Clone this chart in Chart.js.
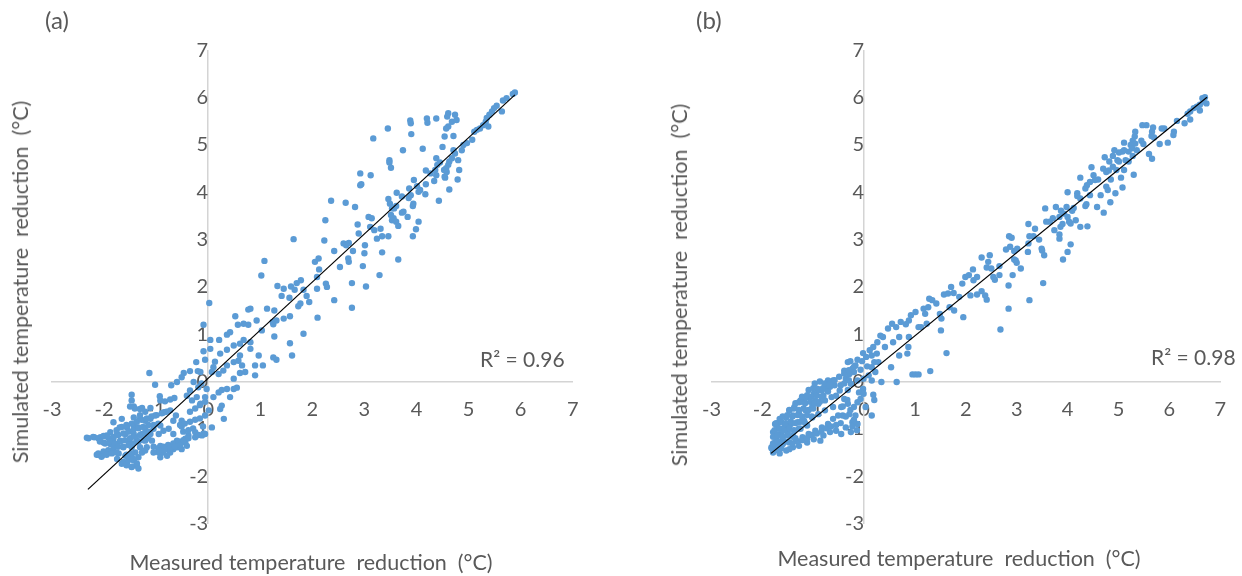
<!DOCTYPE html>
<html>
<head>
<meta charset="utf-8">
<script src="https://cdn.jsdelivr.net/npm/chart.js@4.4.1/dist/chart.umd.min.js"></script>
<style>
  html, body { margin:0; padding:0; background:#fff; }
  #wrap { position:relative; width:1242px; height:576px; overflow:hidden; font-family:Lato, sans-serif; color:#595959; }
  canvas { position:absolute; top:0; }
  .t { position:absolute; font-size:21.5px; line-height:26px; white-space:pre; transform:translate(-50%,-50%); }
  .l { position:absolute; font-size:21px; line-height:26px; white-space:pre; transform:translateY(-50%); }
  .tag { font-size:24px; }
  .rot { transform:translate(-50%,-50%) rotate(-90deg); }
</style>
</head>
<body>
<div id="wrap">
  <canvas id="chartA" width="621" height="576" style="left:0"></canvas>
  <canvas id="chartB" width="621" height="576" style="left:621px"></canvas>

  <div class="l tag" style="left:45px; top:20px">(a)</div>
  <div class="l tag" style="left:696px; top:20px">(b)</div>
  <div class="t rot" style="left:20px; top:282px">Simulated temperature  reduction  (°C)</div>
  <div class="t rot" style="left:679px; top:285px">Simulated temperature  reduction  (°C)</div>
  <div class="t" style="left:311px; top:562px">Measured temperature  reduction  (°C)</div>
  <div class="t" style="left:959px; top:558px">Measured temperature  reduction  (°C)</div>
  <div class="l" style="left:480px; top:359px">R² = 0.96</div>
  <div class="l" style="left:1151px; top:357px">R² = 0.98</div>
</div>
<script>
// ── DATA ──
const AXIS_MIN = -3;
const AXIS_MAX = 7;

// (a) measured vs simulated
const pointsA = [
  [5.89,6.11],[5.85,6.08],[5.73,5.99],[5.66,5.94],[5.64,5.71],[5.54,5.83],[5.49,5.78],[5.45,5.71],[5.40,5.64],[5.35,5.57],
  [5.33,5.49],[5.38,5.39],[5.28,5.42],[5.22,5.35],[5.16,5.32],[5.11,5.28],[5.07,5.11],[4.97,5.04],[4.90,5.00],[4.87,4.89],
  [4.80,4.68],[4.82,4.47],[4.79,4.27],[4.74,4.82],[4.71,4.89],[4.68,4.72],[4.63,4.65],[4.61,4.58],[4.58,4.43],[4.55,4.31],
  [4.63,4.06],[4.53,4.47],[4.50,4.96],[4.54,5.18],[4.71,5.19],[4.61,5.39],[4.57,5.35],[4.68,5.49],[4.74,5.64],[4.77,5.53],
  [4.61,5.67],[4.59,5.60],[4.38,5.56],[4.20,5.56],[4.21,5.47],[3.88,5.52],[3.89,5.46],[3.90,5.23],[3.45,5.35],[3.17,5.14],
  [3.74,4.89],[4.12,4.92],[3.48,4.68],[3.48,4.63],[3.51,4.52],[2.92,4.40],[3.12,4.36],[2.94,4.17],[2.92,4.15],[2.36,3.82],
  [2.64,3.78],[2.82,3.69],[2.25,3.41],[2.23,2.98],[2.42,2.76],[2.60,2.92],[2.65,2.88],[2.70,2.93],[2.78,2.76],[2.69,2.60],
  [2.70,2.53],[2.53,2.42],[2.97,2.44],[3.29,2.25],[3.01,2.88],[3.00,2.71],[3.34,2.73],[3.65,2.58],[2.87,3.32],[2.89,3.13],
  [3.08,3.48],[3.14,3.45],[3.11,3.27],[3.19,3.20],[3.31,3.23],[3.24,3.02],[3.34,3.07],[3.46,3.07],[3.53,3.41],[3.56,3.45],
  [3.61,3.38],[3.65,3.29],[3.72,3.57],[3.75,3.59],[3.83,3.48],[4.04,3.38],[3.99,3.22],[3.93,3.07],[3.62,3.99],[3.46,3.86],
  [3.49,3.76],[3.53,3.66],[3.51,3.52],[3.57,3.66],[3.61,3.71],[3.72,3.91],[3.85,3.88],[3.89,3.94],[3.86,4.08],[3.95,4.26],
  [4.01,4.13],[4.04,4.01],[4.07,4.05],[4.17,3.96],[4.18,4.17],[4.18,4.46],[4.27,4.40],[4.36,4.47],[4.38,4.36],[4.34,4.24],
  [4.43,3.82],[4.38,4.72],[4.40,4.58],[4.45,4.63],[4.54,4.33],[4.57,4.51],[3.93,3.71],[3.94,3.76],
  [0.02,1.66],[-0.09,1.20],[1.08,2.55],[1.02,2.24],[1.64,3.01],[1.33,2.02],[1.45,1.96],[1.59,2.01],[1.66,1.94],[1.70,2.08],
  [1.78,2.14],[1.41,1.81],[1.56,1.77],[1.83,1.94],[1.89,1.81],[1.94,1.68],[1.73,1.59],[1.77,1.65],[2.09,1.96],[2.05,2.53],
  [2.12,2.60],[2.09,2.21],[2.13,2.37],[0.52,1.38],[0.77,1.52],[0.81,1.54],[1.13,1.54],[1.27,1.50],[0.57,1.20],[0.68,1.22],
  [0.77,1.20],[0.93,1.29],[1.03,1.08],[1.24,1.26],[1.31,1.29],[1.25,1.21],[1.45,1.33],[1.57,1.38],[0.36,0.99],[0.42,1.04],
  [0.21,0.88],[0.04,0.88],[0.04,0.69],[-0.09,0.64],[-0.06,0.46],[0.13,0.42],[0.23,0.59],[0.36,0.67],[0.49,0.76],[0.61,0.80],
  [0.68,0.88],[0.81,0.83],[0.81,0.69],[0.61,0.55],[0.58,0.44],[0.65,0.34],[0.49,0.41],[0.36,0.34],[0.29,0.23],[0.20,0.16],
  [0.10,0.30],[0.07,0.20],[0.49,0.06],[0.61,0.18],[0.71,0.20],[0.90,0.34],[0.90,0.13],[0.97,0.55],[1.05,0.34],[1.25,0.51],
  [1.31,0.46],[1.27,0.95],[1.57,0.81],[1.61,0.55],[1.83,1.01],[2.10,1.35],[-0.15,0.20],[2.26,2.07],[2.28,2.00],[2.42,1.72],
  [2.76,2.08],[2.76,1.56],[3.03,2.01],
  [-1.13,0.18],[-1.02,-0.07],[-1.47,-0.28],[-1.43,-0.53],[-1.27,-0.56],[-1.11,-0.56],[-0.93,-0.31],[-0.92,-0.40],[-0.83,-0.42],[-0.73,-0.38],
  [-0.65,-0.35],[-0.71,-0.08],[-0.60,-0.01],[-0.47,0.18],[-0.51,0.09],[-0.35,0.22],[-0.23,0.41],[-0.20,0.22],[-0.28,-0.01],[-0.35,-0.19],
  [-0.41,-0.30],[-0.19,-0.12],[-0.22,-0.33],[-0.31,-0.40],[-0.15,-0.47],[-0.06,-0.33],[-0.03,-0.16],[-0.13,-0.04],[0.10,-0.33],[0.20,-0.23],
  [0.36,-0.16],[0.42,-0.33],[0.49,-0.16],[0.26,-0.51],[0.23,-0.58],[0.01,-0.61],[-0.06,-0.72],[0.30,-0.79],[0.07,-0.97],[-0.10,-0.95],
  [-0.12,-1.14],[-0.06,-1.11],[-0.25,-1.07],[-0.25,-1.18],[-0.38,-1.14],[-0.44,-1.29],[-0.41,-1.36],[-0.60,-1.25],[-0.60,-1.39],[-0.73,-1.50],
  [-0.86,-1.50],[-0.95,-1.50],[-0.79,-1.43],[-0.67,-1.43],[-0.51,-1.43],[-0.44,-1.21],[-0.51,-0.95],[-0.51,-0.83],[-0.67,-0.83],[-0.62,-0.72],
  [-0.73,-0.61],[-0.85,-0.65],[-1.02,-0.72],[-1.11,-0.79],[-1.21,-0.83],[-1.31,-0.79],[-1.43,-0.76],[-1.66,-0.79],[-1.82,-0.86],[-1.70,-0.97],
  [-1.56,-0.97],[-1.43,-0.93],[-1.34,-0.97],[-1.21,-1.00],[-1.05,-1.00],[-0.92,-0.93],[-0.86,-1.04],[-0.76,-1.00],[-0.67,-1.11],[-0.95,-1.11],
  [-1.11,-1.11],[-1.27,-1.11],[-1.43,-1.11],[-1.59,-1.11],[-1.75,-1.11],[-1.88,-1.07],[-1.95,-1.14],[-2.07,-1.18],[-2.19,-1.18],[-2.30,-1.20],
  [-1.82,-1.21],[-1.69,-1.25],[-1.53,-1.25],[-1.37,-1.24],[-1.21,-1.25],[-1.08,-1.25],[-2.01,-1.29],[-1.88,-1.32],[-1.75,-1.36],[-1.63,-1.39],
  [-1.47,-1.39],[-1.31,-1.39],[-1.18,-1.39],[-2.11,-1.55],[-2.04,-1.57],[-1.95,-1.53],[-1.85,-1.50],[-1.72,-1.52],[-1.59,-1.57],[-1.50,-1.60],
  [-1.43,-1.67],[-1.56,-1.71],[-1.37,-1.78],[-1.47,-1.81],[-1.34,-1.60],[-1.27,-1.50],[-1.21,-1.46],[-1.40,-1.50],[-0.92,-1.36],[-1.05,-1.50],
  [-0.79,-1.57],[-0.92,-1.60],[-1.66,-1.74],[-1.75,-1.64],[-1.47,-0.40],[-1.31,-0.58],[0.55,-0.13],[0.26,-0.18]
];
// (a) dense lower-left cluster
const clusterA = [
  [-2.33,-1.19],[-2.21,-1.17],[-2.11,-1.20],[-2.01,-1.15],[-1.92,-1.19],[-1.82,-1.17],[-1.73,-1.13],[-1.63,-1.10],[-1.53,-1.06],[-1.44,-1.03],
  [-1.34,-0.99],[-1.25,-0.96],[-1.15,-0.92],[-1.05,-0.92],[-0.96,-0.89],
  [-2.08,-1.27],[-1.98,-1.31],[-1.89,-1.27],[-1.79,-1.31],[-1.69,-1.27],[-1.60,-1.24],[-1.50,-1.20],[-1.41,-1.17],[-1.31,-1.13],[-1.21,-1.10],[-1.12,-1.06],
  [-2.11,-1.52],[-2.01,-1.48],[-1.92,-1.45],[-1.82,-1.41],[-1.73,-1.38],[-1.63,-1.38],[-1.53,-1.34],[-1.44,-1.31],[-1.34,-1.27],[-1.25,-1.24],[-1.15,-1.20],
  [-2.14,-1.55],[-2.05,-1.59],[-1.95,-1.55],[-1.85,-1.52],[-1.76,-1.50],[-1.57,-1.55],[-1.47,-1.52],
  [-1.63,-1.70],[-1.53,-1.66],[-1.44,-1.63],[-1.37,-1.73],[-1.47,-1.80],[-1.34,-1.84],[-1.57,-1.77],
  [-1.76,-1.03],[-1.66,-0.96],[-1.57,-0.92],[-1.47,-0.89],[-1.37,-0.85],[-1.28,-0.81],[-1.18,-0.78],[-1.09,-0.74],[-0.99,-0.71],[-0.89,-0.67],
  [-0.80,-0.64],[-1.31,-0.71],[-1.21,-0.64],[-1.41,-0.57],[-1.50,-0.53],
  [-1.05,-1.38],[-0.96,-1.41],[-0.86,-1.38],[-0.77,-1.34],[-0.67,-1.31],[-0.57,-1.27],[-0.48,-1.24],[-0.38,-1.20],[-0.93,-1.45],[-0.83,-1.43],
  [-0.73,-1.40],[-0.64,-1.37],[-0.54,-1.34],
  [-0.54,-0.92],[-0.45,-0.89],[-0.35,-0.85],[-0.25,-0.81],[-0.16,-0.78],[-0.48,-1.06],[-0.38,-1.03],[-0.29,-0.99],[-0.19,-1.13],[-0.09,-1.10],
  [-0.35,-0.64],[-0.25,-0.57],[-0.16,-0.50],[-0.06,-0.43]
];
const trendA = [[-2.31,-2.28],[5.89,6.06]];

// (b) measured vs simulated
const pointsB = [
  [6.70,6.01],[6.65,5.99],[6.73,5.88],[6.67,5.92],[6.60,5.85],[6.54,5.81],[6.60,5.73],[6.48,5.78],[6.41,5.71],[6.36,5.66],
  [6.41,5.54],[6.30,5.46],[6.15,5.51],[6.09,5.28],[6.08,5.21],[5.97,5.05],[5.90,5.35],[5.85,5.35],[5.81,5.02],[5.70,5.16],
  [5.65,5.19],[5.68,5.37],[5.66,5.28],[5.55,5.42],[5.47,5.42],[5.49,5.02],[5.45,5.09],[5.33,5.28],[5.32,5.18],[5.28,5.09],
  [5.33,5.03],[5.24,5.00],[5.27,4.93],[5.36,4.89],[5.20,4.86],[5.11,5.05],[5.11,4.89],[5.08,4.86],[5.14,4.68],[5.20,4.65],
  [5.28,4.77],[5.60,4.81],[5.66,4.71],[5.30,4.37],[5.01,4.84],[4.98,4.68],[4.92,4.89],[4.89,4.77],[4.82,4.65],[4.73,4.74],
  [5.01,4.65],[4.89,4.54],[4.96,4.47],[5.11,4.47],[5.05,4.31],[4.70,4.50],[4.76,4.43],[4.81,4.46],[4.85,4.27],[4.47,4.53],
  [4.25,4.31],[4.51,4.36],[4.60,4.27],[4.54,4.26],[4.44,4.22],[4.38,4.15],[4.35,4.08],[4.76,4.12],[4.79,4.05],[4.65,3.94],
  [4.94,3.98],[5.08,4.10],[4.84,3.79],[4.71,3.57],[4.58,3.69],[4.44,3.94],[4.19,3.98],[4.19,3.92],[4.00,4.00],[4.25,3.87],
  [4.35,3.71],[4.37,3.75],[4.12,3.67],[4.09,3.61],[3.98,3.69],[3.93,3.55],[3.77,3.69],[3.56,3.66],[3.87,3.61],[3.84,3.48],
  [3.71,3.45],[3.65,3.38],[3.58,3.38],[4.00,3.48],[4.03,3.38],[4.16,3.41],[4.25,3.27],[4.39,3.28],[4.06,3.34],[3.90,3.33],
  [3.86,3.27],[3.74,3.20],[3.84,3.11],[3.84,3.02],[3.36,3.23],[3.44,3.00],[3.33,3.07],[4.06,2.90],[3.49,2.81],
  [0.63,1.15],[0.72,1.26],[0.82,1.21],[0.88,1.29],[0.92,1.40],[1.01,1.47],[1.07,1.15],[1.12,1.15],[1.23,1.22],[1.17,1.54],
  [1.26,1.57],[1.28,1.75],[1.34,1.72],[1.42,1.65],[1.20,1.43],[1.49,1.43],[1.52,1.33],[1.51,1.08],[1.68,1.57],[1.77,1.50],
  [1.57,1.84],[1.65,1.86],[1.71,2.00],[1.76,1.87],[1.87,1.79],[1.95,1.36],[1.93,2.07],[1.99,2.21],[2.06,2.25],[2.15,2.14],
  [2.14,2.37],[2.22,2.21],[2.09,1.82],[2.22,1.84],[2.31,1.91],[2.41,1.73],[2.38,1.82],[2.31,2.62],[2.47,2.67],[2.44,2.53],
  [2.41,2.41],[2.50,2.39],[2.54,2.21],[2.57,2.15],[2.66,2.25],[2.66,2.44],[2.68,1.10],[2.84,2.03],[2.84,1.54],[2.92,2.25],
  [2.79,2.79],[2.87,2.85],[2.95,2.76],[2.85,3.07],[2.90,3.04],[2.98,2.56],[3.00,2.51],[2.95,2.58],[3.08,2.39],[3.01,2.81],
  [3.22,2.74],[3.25,1.72],[3.23,3.33],[3.23,2.92],[3.25,3.07],[3.50,2.77],[3.54,2.67],[3.52,2.08],[3.91,2.58],[4.00,2.74],
  [0.69,0.94],[0.88,0.94],[0.87,0.73],[1.62,0.60],
  [0.55,1.22],[0.47,1.12],[0.37,0.94],[0.32,0.97],[0.26,0.83],[0.41,0.73],[0.57,0.83],[0.18,0.73],[0.11,0.66],[0.15,0.55],
  [0.25,0.59],[-0.02,0.60],[0.04,0.52],[-0.04,0.43],[-0.13,0.46],[-0.17,0.34],[-0.27,0.43],[-0.32,0.41],[-0.23,0.27],[-0.20,0.20],
  [-0.29,0.16],[-0.07,0.25],[0.06,0.32],[0.15,0.30],[0.20,0.41],[0.28,0.41],[0.22,0.20],[0.09,0.13],[0.15,0.02],[0.34,-0.01],
  [0.18,-0.28],[0.20,-0.39],[0.15,-0.72],[0.64,-0.01],[0.53,0.30],[0.69,0.55],[0.85,0.59],[0.95,0.15],[1.01,0.15],[1.07,0.15],
  [1.30,0.22],[-0.13,0.02],[-0.01,0.06],[-0.02,-0.16],[-0.10,-0.23],[-0.07,-0.37],[-0.13,-0.44],[-0.20,-0.54],[-0.17,-0.72],[-0.13,-0.90],
  [-0.26,-1.07],[-0.23,-0.86],[-0.29,-0.69],[-0.32,-0.47],[-0.39,-0.37],[-0.45,-0.54],[-0.42,-0.72],[-0.36,-0.97],[-0.58,-0.08],[-0.61,0.02],
  [-0.67,-0.11],[-0.71,0.02],[-0.77,-0.13],[-0.83,-0.19],[-0.91,-0.16],[-0.99,-0.26],[-1.09,-0.33],[-1.18,-0.40],[-1.28,-0.44],[-1.37,-0.54],
  [-1.47,-0.61],[-0.48,-0.19],[-0.55,-0.30],[-0.64,-0.33],[-0.77,-0.40],[-0.90,-0.47],[-1.02,-0.54],[-1.15,-0.61],[-1.28,-0.68],[-1.40,-0.72],
  [-1.53,-0.76],[-1.66,-0.79],[-1.75,-0.90],[-1.69,-1.00],[-1.56,-0.93],[-1.44,-0.90],[-1.31,-0.86],[-1.18,-0.83],[-1.02,-0.76],[-0.90,-0.69],
  [-0.77,-0.61],[-0.61,-0.54],[-0.51,-0.72],[-0.61,-0.79],[-0.71,-0.90],[-0.83,-0.97],[-0.96,-1.04],[-1.09,-1.11],[-1.21,-1.18],[-1.34,-1.25],
  [-1.47,-1.29],[-1.60,-1.32],[-1.72,-1.36],[-1.82,-1.39],[-1.79,-1.50],[-1.66,-1.52],[-1.53,-1.46],[-1.40,-1.39],[-1.28,-1.36],[-1.12,-1.29],
  [-0.99,-1.22],[-0.86,-1.25],[-0.80,-1.14],[-0.67,-1.07],[-0.55,-1.04],[-0.45,-1.11],[-1.63,-1.11],[-1.50,-1.07],[-1.37,-1.04],[-1.25,-1.00],
  [-1.12,-0.93],[-1.72,-1.18],[-1.60,-1.21],[-1.75,-1.29],[-1.40,-1.14],[-1.79,-1.07],[-1.69,-0.88],[-1.25,-0.40],[-1.15,-0.33],[-0.36,0.06],
  [-0.46,-0.08],[-0.80,-0.30],[-0.96,-0.40],[-0.39,0.23],[-0.26,-0.05],[-0.32,-0.18],[-0.01,-0.26],[0.03,-0.54],[-1.69,-1.39],[-1.47,-1.43]
];
// (b) dense lower-left cluster
const clusterB = [
  [-1.82,-1.41],[-1.73,-1.45],[-1.63,-1.41],[-1.79,-1.31],[-1.70,-1.27],[-1.60,-1.31],[-1.51,-1.27],[-1.79,-1.17],[-1.70,-1.13],[-1.60,-1.17],
  [-1.51,-1.13],[-1.41,-1.17],[-1.76,-1.03],[-1.66,-0.99],[-1.57,-1.03],[-1.47,-0.99],[-1.38,-1.03],[-1.28,-0.99],[-1.73,-0.88],[-1.63,-0.85],
  [-1.54,-0.88],[-1.44,-0.85],[-1.35,-0.88],[-1.25,-0.85],[-1.16,-0.88],[-1.60,-0.74],[-1.51,-0.71],[-1.41,-0.74],[-1.31,-0.71],[-1.22,-0.74],
  [-1.12,-0.71],[-1.03,-0.74],[-1.47,-0.60],[-1.38,-0.57],[-1.28,-0.60],[-1.19,-0.57],[-1.09,-0.60],[-1.00,-0.57],[-1.35,-0.46],[-1.25,-0.43],
  [-1.16,-0.46],[-1.06,-0.43],[-0.97,-0.46],[-0.87,-0.43],[-1.22,-0.32],[-1.12,-0.29],[-1.03,-0.32],[-0.93,-0.29],[-0.84,-0.32],[-1.09,-0.18],
  [-1.00,-0.14],[-0.90,-0.18],[-0.81,-0.14],[-0.71,-0.21],[-0.97,-0.04],[-0.87,0.00],[-0.78,-0.04],[-0.68,-0.07],[-0.58,0.03],[-0.49,0.10],
  [-0.39,0.17],[-0.30,0.24],[-0.20,0.31],[-0.39,-0.04],[-0.30,0.03],
  [-1.41,-1.31],[-1.31,-1.27],[-1.22,-1.24],[-1.12,-1.20],[-1.03,-1.13],[-0.93,-1.10],[-0.84,-1.06],[-0.74,-0.99],[-0.65,-0.95],[-0.55,-0.92],
  [-0.46,-0.88],[-1.35,-1.20],
  [-0.33,-0.39],[-0.27,-0.60],[-0.20,-0.81],[-0.14,-1.03],[-0.23,-0.95],[-0.36,-0.74],[-0.42,-0.53]
];
const trendB = [[-1.83,-1.52],[6.74,6.01]];

// ── STYLE ──
const TEXT = '#595959';
const AXIS = '#d4d4d4';
const DOT = '#5b9bd5';
Chart.defaults.font.family = 'Lato, sans-serif';
Chart.defaults.font.size = 20;
Chart.defaults.color = TEXT;

const toXY = arr => arr.map(([x, y]) => ({ x, y }));

function axis(pos, pad) {
  return {
    type: 'linear', position: pos, min: AXIS_MIN, max: AXIS_MAX,
    ticks: { stepSize: 1, padding: pad, autoSkip: false, maxRotation: 0, color: TEXT },
    grid: { drawOnChartArea: false, drawTicks: false },
    border: { color: AXIS, width: 1.5 }
  };
}

function makeChart(id, points, trend, padding) {
  return new Chart(document.getElementById(id), {
    type: 'scatter',
    data: {
      datasets: [
        { type: 'line', data: toXY(trend), borderColor: '#000', borderWidth: 1.2, pointRadius: 0, fill: false, order: 0 },
        { data: toXY(points), backgroundColor: DOT, borderWidth: 0, pointRadius: 3.2, order: 1 }
      ]
    },
    options: {
      responsive: false, animation: false, devicePixelRatio: 1,
      layout: { padding },
      plugins: { legend: { display: false }, tooltip: { enabled: false } },
      scales: { x: axis({ y: 0 }, 16), y: axis({ x: 0 }, 21) }
    }
  });
}

makeChart('chartA', pointsA.concat(clusterA), trendA, { left: 52, right: 48.3, top: 50.4, bottom: 52.6 });
makeChart('chartB', pointsB.concat(clusterB), trendB, { left: 90.5, right: 5.5, top: 50.4, bottom: 52.6 });
</script>
</body>
</html>
